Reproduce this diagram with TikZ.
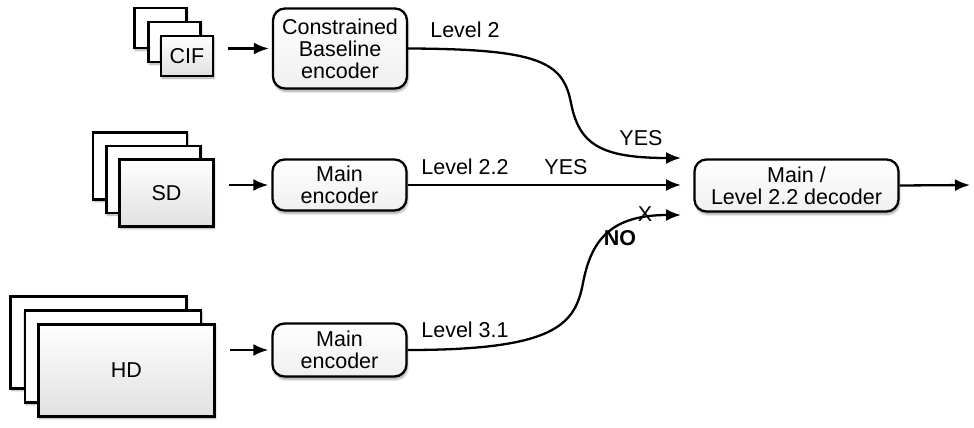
\documentclass[tikz,border=0pt]{standalone}
\usepackage{fontspec}
\setmainfont{Liberation Sans}
\usetikzlibrary{calc,arrows.meta,shadows.blur}

\begin{document}
\begin{tikzpicture}[x=1pt,y=-1pt,line width=2.3pt,>={Latex[length=15pt,width=12pt]},
        every node/.style={font=\fontsize{21.5}{22}\selectfont,align=center},
        frame/.style={draw,fill=white,inner sep=0pt,blur shadow={shadow blur steps=6,shadow xshift=1pt,shadow yshift=-2pt,shadow opacity=35}},
        front/.style={frame,top color=white,bottom color=black!12},
        block/.style={draw,fill=white,rounded corners=12pt,inner sep=0pt,top color=white,bottom color=black!6,
            blur shadow={shadow blur steps=6,shadow xshift=1pt,shadow yshift=-3pt,shadow opacity=35}}]
        \useasboundingbox (0,0) rectangle (974,428);
        % input frames
        \node[frame,minimum width=52pt,minimum height=40pt] (cifA) at (160.5,28){};
        \node[frame,minimum width=52pt,minimum height=40pt] (cifB) at (174.5,42){};
        \node[front,minimum width=52pt,minimum height=40pt] (cif) at (187,56){CIF};
        \node[frame,minimum width=94pt,minimum height=67pt] (sdA) at (140,166){};
        \node[frame,minimum width=94pt,minimum height=67pt] (sdB) at (153.5,179.5){};
        \node[front,minimum width=94pt,minimum height=67pt] (sd) at (166.5,193){SD};
        \node[frame,minimum width=176pt,minimum height=92pt] (hdA) at (98.5,342.5){};
        \node[frame,minimum width=176pt,minimum height=92pt] (hdB) at (113,356.5){};
        \node[front,minimum width=176pt,minimum height=92pt] (hd) at (126.5,370.5){HD};
        % encoders and decoder
        \node[block,minimum width=134pt,minimum height=80pt] (cbenc) at (340,48.5){Constrained\\Baseline\\encoder};
        \node[block,minimum width=134pt,minimum height=51pt] (sdenc) at (339.5,185){Main\\encoder};
        \node[block,minimum width=134pt,minimum height=53pt] (hdenc) at (339.5,350){Main\\encoder};
        \node[block,minimum width=204pt,minimum height=52pt] (dec) at (796.5,185.5){Main /\\Level 2.2 decoder};
        \coordinate (inA) at (681,158);
        \coordinate (inB) at (681,185);
        \coordinate (inC) at (681,215);
        \coordinate (out) at (970,185);
        % connectors
        \draw[->,shorten <=14pt,shorten >=3pt] (cif.east |- cbenc.west) -- (cbenc.west);
        \draw[->,shorten <=14pt,shorten >=3pt] (sd.east |- sdenc.west) -- (sdenc.west);
        \draw[->,shorten <=14pt,shorten >=3pt] (hd.east |- hdenc.west) -- (hdenc.west);
        \draw[->] (cbenc.east) .. controls (540,49) and (563,62) .. (571,103)
            .. controls (579,144) and (600,158) .. (inA);
        \draw[->] (sdenc.east) -- (inB);
        \draw[->] (hdenc.east) .. controls (555,350) and (575,325) .. (583,283)
            .. controls (591,241) and (610,215) .. (inC);
        \draw[->] (dec.east) -- (out);
        % labels
        \node (lvA) at (465,30){Level 2};
        \node (yesA) at (641,138){YES};
        \node (lvB) at (465,167){Level 2.2};
        \node (yesB) at (566,167){YES};
        \node (lvC) at (465,330){Level 3.1};
        \node[font=\fontsize{21.5}{22}\selectfont\bfseries] (no) at (620,238){NO};
        \node (cross) at (645,214){X};
\end{tikzpicture}
\end{document}
